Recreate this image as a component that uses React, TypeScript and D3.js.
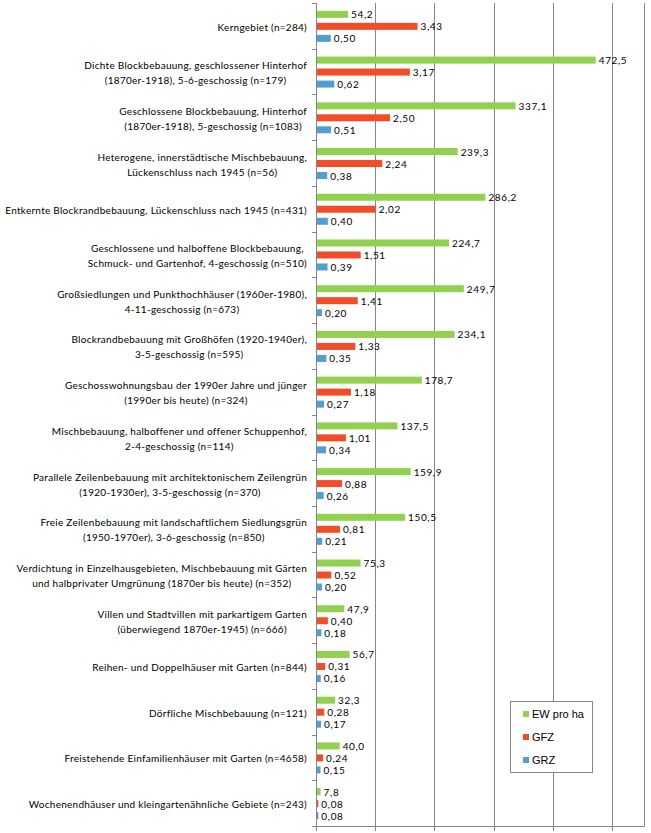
import React, { useEffect, useRef } from "react";
import * as d3 from "d3";

// Category labels (line breaks marked with \n)
const categories: string[] = [
  "Kerngebiet (n=284)",
  "Dichte Blockbebauung, geschlossener Hinterhof\n(1870er-1918), 5-6-geschossig (n=179)",
  "Geschlossene Blockbebauung, Hinterhof\n(1870er-1918), 5-geschossig (n=1083)",
  "Heterogene, innerstädtische Mischbebauung,\nLückenschluss nach 1945 (n=56)",
  "Entkernte Blockrandbebauung, Lückenschluss nach 1945 (n=431)",
  "Geschlossene und halboffene Blockbebauung,\nSchmuck- und Gartenhof, 4-geschossig (n=510)",
  "Großsiedlungen und Punkthochhäuser (1960er-1980),\n4-11-geschossig (n=673)",
  "Blockrandbebauung mit Großhöfen (1920-1940er),\n3-5-geschossig (n=595)",
  "Geschosswohnungsbau der 1990er Jahre und jünger\n(1990er bis heute) (n=324)",
  "Mischbebauung, halboffener und offener Schuppenhof,\n2-4-geschossig (n=114)",
  "Parallele Zeilenbebauung mit architektonischem Zeilengrün\n(1920-1930er), 3-5-geschossig (n=370)",
  "Freie Zeilenbebauung mit landschaftlichem Siedlungsgrün\n(1950-1970er), 3-6-geschossig (n=850)",
  "Verdichtung in Einzelhausgebieten, Mischbebauung mit Gärten\nund halbprivater Umgrünung (1870er bis heute) (n=352)",
  "Villen und Stadtvillen mit parkartigem Garten\n(überwiegend 1870er-1945) (n=666)",
  "Reihen- und Doppelhäuser mit Garten (n=844)",
  "Dörfliche Mischbebauung (n=121)",
  "Freistehende Einfamilienhäuser mit Garten (n=4658)",
  "Wochenendhäuser und kleingartenähnliche Gebiete (n=243)",
];

const ewProHa: number[] = [
  54.2, 472.5, 337.1, 239.3, 286.2, 224.7, 249.7, 234.1, 178.7, 137.5, 159.9,
  150.5, 75.3, 47.9, 56.7, 32.3, 40.0, 7.8,
];
const gfz: number[] = [
  3.43, 3.17, 2.5, 2.24, 2.02, 1.51, 1.41, 1.33, 1.18, 1.01, 0.88, 0.81, 0.52,
  0.4, 0.31, 0.28, 0.24, 0.08,
];
const grz: number[] = [
  0.5, 0.62, 0.51, 0.38, 0.4, 0.39, 0.2, 0.35, 0.27, 0.34, 0.26, 0.21, 0.2,
  0.18, 0.16, 0.17, 0.15, 0.08,
];

const seriesNames: string[] = ["EW pro ha", "GFZ", "GRZ"];
const seriesDecimals: number[] = [1, 2, 2];
const gridTicks: number[] = [0, 100, 200, 300, 400, 500];

const COLORS = ["#92d050", "#f24d27", "#4f9fd0"];
const AXIS = "#868686";
const LABEL_FONT = "Lato, 'Open Sans', sans-serif";

export default function App() {
  const ref = useRef<SVGSVGElement | null>(null);

  useEffect(() => {
    const svg = d3.select(ref.current);
    svg.selectAll("*").remove();

    const left = 316;
    const right = 644;
    const top = 3;
    const bottom = 826;
    const ewMax = 554;

    const y = d3
      .scaleBand<number>()
      .domain(categories.map((_, i) => i))
      .range([top, bottom]);

    // EW on the main scale, GFZ / GRZ on a ratio scale (factor 50)
    const xEw = d3.scaleLinear().domain([0, ewMax]).range([left, right]);
    const xRatio = d3.scaleLinear().domain([0, ewMax / 50]).range([left, right]);
    const scales = [xEw, xRatio, xRatio];
    const values = [ewProHa, gfz, grz];

    const inner = d3
      .scaleBand<number>()
      .domain([0, 1, 2])
      .range([-15.5, 15.5])
      .paddingInner(0.417)
      .paddingOuter(0);

    const fmt = (v: number, d: number) => v.toFixed(d).replace(".", ",");

    // grid lines
    svg
      .append("g")
      .selectAll("line")
      .data(gridTicks.slice(1))
      .join("line")
      .attr("x1", (d) => Math.round(xEw(d)) + 0.5)
      .attr("x2", (d) => Math.round(xEw(d)) + 0.5)
      .attr("y1", top)
      .attr("y2", bottom)
      .attr("stroke", AXIS)
      .attr("stroke-width", 1);

    // right border of the plot area
    svg
      .append("line")
      .attr("x1", right + 0.5)
      .attr("x2", right + 0.5)
      .attr("y1", top)
      .attr("y2", bottom)
      .attr("stroke", AXIS);

    // bars
    const barsG = svg.append("g");
    const labelsG = svg.append("g");
    values.forEach((arr, s) => {
      const sc = scales[s];
      barsG
        .append("g")
        .selectAll("rect")
        .data(arr)
        .join("rect")
        .attr("x", left)
        .attr("y", (_, i) => (y(i) as number) + y.bandwidth() / 2 + (inner(s) as number) + 0.5)
        .attr("width", (d) => sc(d) - left)
        .attr("height", inner.bandwidth())
        .attr("fill", COLORS[s]);

      labelsG
        .append("g")
        .selectAll("text")
        .data(arr)
        .join("text")
        .attr("x", (d) => sc(d) + 3)
        .attr(
          "y",
          (_, i) =>
            (y(i) as number) + y.bandwidth() / 2 + (inner(s) as number) + 0.5 + inner.bandwidth() / 2
        )
        .attr("dominant-baseline", "central")
        .attr("font-family", LABEL_FONT)
        .attr("font-size", 10)
        .attr("letter-spacing", 0.6)
        .attr("fill", "#000")
        .text((d) => fmt(d, seriesDecimals[s]));
    });

    // vertical category axis
    const axisG = svg.append("g");
    axisG
      .append("line")
      .attr("x1", left + 0.5)
      .attr("x2", left + 0.5)
      .attr("y1", top)
      .attr("y2", bottom + 0.5)
      .attr("stroke", AXIS);
    axisG
      .selectAll("line.tick")
      .data(d3.range(categories.length + 1))
      .join("line")
      .attr("class", "tick")
      .attr("x1", left - 4)
      .attr("x2", left + 0.5)
      .attr("y1", (i) => Math.round(top + i * y.step()) + 0.5)
      .attr("y2", (i) => Math.round(top + i * y.step()) + 0.5)
      .attr("stroke", AXIS);

    // horizontal value axis (bottom)
    axisG
      .append("line")
      .attr("x1", left)
      .attr("x2", right + 1)
      .attr("y1", bottom + 0.5)
      .attr("y2", bottom + 0.5)
      .attr("stroke", AXIS);
    axisG
      .selectAll("line.xtick")
      .data(gridTicks)
      .join("line")
      .attr("class", "xtick")
      .attr("x1", (d) => Math.round(xEw(d)) + 0.5)
      .attr("x2", (d) => Math.round(xEw(d)) + 0.5)
      .attr("y1", bottom)
      .attr("y2", bottom + 5)
      .attr("stroke", AXIS);

    // category labels: block right-aligned, lines centred within the block
    const catG = svg.append("g");
    const labelRight = 307;
    const lineH = 15;
    categories.forEach((cat, i) => {
      const lines = cat.split("\n");
      const cy = (y(i) as number) + y.bandwidth() / 2 + 1;
      const texts = lines.map((ln, k) =>
        catG
          .append("text")
          .attr("font-family", LABEL_FONT)
          .attr("font-size", 10)
          .attr("letter-spacing", 0.27)
          .attr("fill", "#000")
          .attr("dominant-baseline", "central")
          .attr("text-anchor", "middle")
          .attr("y", cy + (k - (lines.length - 1) / 2) * lineH)
          .text(ln)
      );
      const widths = texts.map((t) => (t.node() as SVGTextElement).getComputedTextLength());
      const maxW = Math.max(...widths);
      texts.forEach((t) => t.attr("x", labelRight - maxW / 2));
    });

    // legend
    const lg = svg.append("g");
    lg.append("rect")
      .attr("x", 510.5)
      .attr("y", 701.5)
      .attr("width", 82)
      .attr("height", 71)
      .attr("fill", "#fff")
      .attr("stroke", AXIS);
    seriesNames.forEach((name, s) => {
      const cy = 714 + s * 23;
      lg.append("rect")
        .attr("x", 523)
        .attr("y", cy - 3)
        .attr("width", 6)
        .attr("height", 6)
        .attr("fill", COLORS[s]);
      lg.append("text")
        .attr("x", 532)
        .attr("y", cy)
        .attr("dominant-baseline", "central")
        .attr("font-family", "'Liberation Sans', Arial, sans-serif")
        .attr("font-size", 11)
        .attr("fill", "#000")
        .text(name);
    });
  }, []);

  return (
    <svg
      ref={ref}
      width={651}
      height={833}
      style={{ position: "absolute", left: 0, top: 0, background: "#fff" }}
    />
  );
}
